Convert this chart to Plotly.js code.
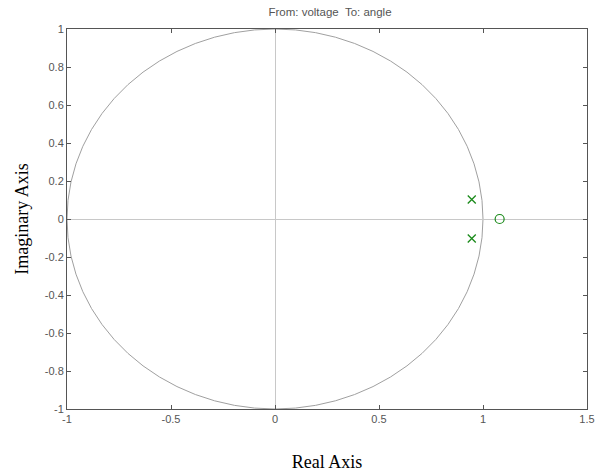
<!DOCTYPE html>
<html><head><meta charset="utf-8">
<script src="https://cdn.plot.ly/plotly-3.0.1.min.js"></script>
<style>html,body{margin:0;padding:0;background:#fff}#chart{width:600px;height:474px}</style>
</head><body><div id="chart"></div>
<script>
const poleReal = [0.946, 0.946];
const poleImag = [0.103, -0.103];
const zeroReal = [1.08];
const zeroImag = [0];
const unitCircleRadius = 1;
const xTicks = [-1, -0.5, 0, 0.5, 1, 1.5];
const xTickLabels = ['-1', '-0.5', '0', '0.5', '1', '1.5'];
const yTicks = [-1, -0.8, -0.6, -0.4, -0.2, 0, 0.2, 0.4, 0.6, 0.8, 1];
const yTickLabels = ['-1', '-0.8', '-0.6', '-0.4', '-0.2', '0', '0.2', '0.4', '0.6', '0.8', '1'];

const green = '#1a8a1a';
const traces = [
  {x: poleReal, y: poleImag, mode: 'markers', type: 'scatter',
   marker: {symbol: 'x-thin-open', size: 8, color: green, line: {color: green, width: 1.3}}, hoverinfo: 'x+y'},
  {x: zeroReal, y: zeroImag, mode: 'markers', type: 'scatter',
   marker: {symbol: 'circle-open', size: 9, color: green, line: {color: green, width: 1.2}}, hoverinfo: 'x+y'}
];
const sans = 'Liberation Sans, Arial, sans-serif';
const serif = 'Liberation Serif, Times New Roman, serif';
const axisCommon = {
  showgrid: false, zeroline: true, zerolinecolor: '#c8c8c8', zerolinewidth: 1,
  showline: true, linecolor: '#555', linewidth: 1, mirror: 'ticks',
  ticks: 'inside', ticklen: 4, tickcolor: '#555',
  tickfont: {family: sans, size: 11, color: '#555'}
};
const layout = {
  width: 600, height: 474,
  margin: {l: 67, r: 13, t: 29, b: 65},
  paper_bgcolor: '#fff', plot_bgcolor: '#fff',
  showlegend: false,
  title: {text: 'From: voltage  To: angle', font: {family: sans, size: 11.5, color: '#555'},
          x: 0.55, xanchor: 'center', y: 0.974, yanchor: 'middle'},
  xaxis: Object.assign({}, axisCommon, {range: [-1, 1.5], tickvals: xTicks, ticktext: xTickLabels,
    title: {text: 'Real Axis', font: {family: serif, size: 18, color: '#000'}, standoff: 31}}),
  yaxis: Object.assign({}, axisCommon, {range: [-1, 1], tickvals: yTicks, ticktext: yTickLabels,
    title: {text: 'Imaginary Axis', font: {family: serif, size: 18, color: '#000'}, standoff: 11}}),
  shapes: [{type: 'circle', xref: 'x', yref: 'y', x0: -unitCircleRadius, x1: unitCircleRadius,
            y0: -unitCircleRadius, y1: unitCircleRadius, line: {color: '#a0a0a0', width: 1}, layer: 'below'}]
};
Plotly.newPlot('chart', traces, layout, {displayModeBar: false, staticPlot: true});
</script></body></html>
